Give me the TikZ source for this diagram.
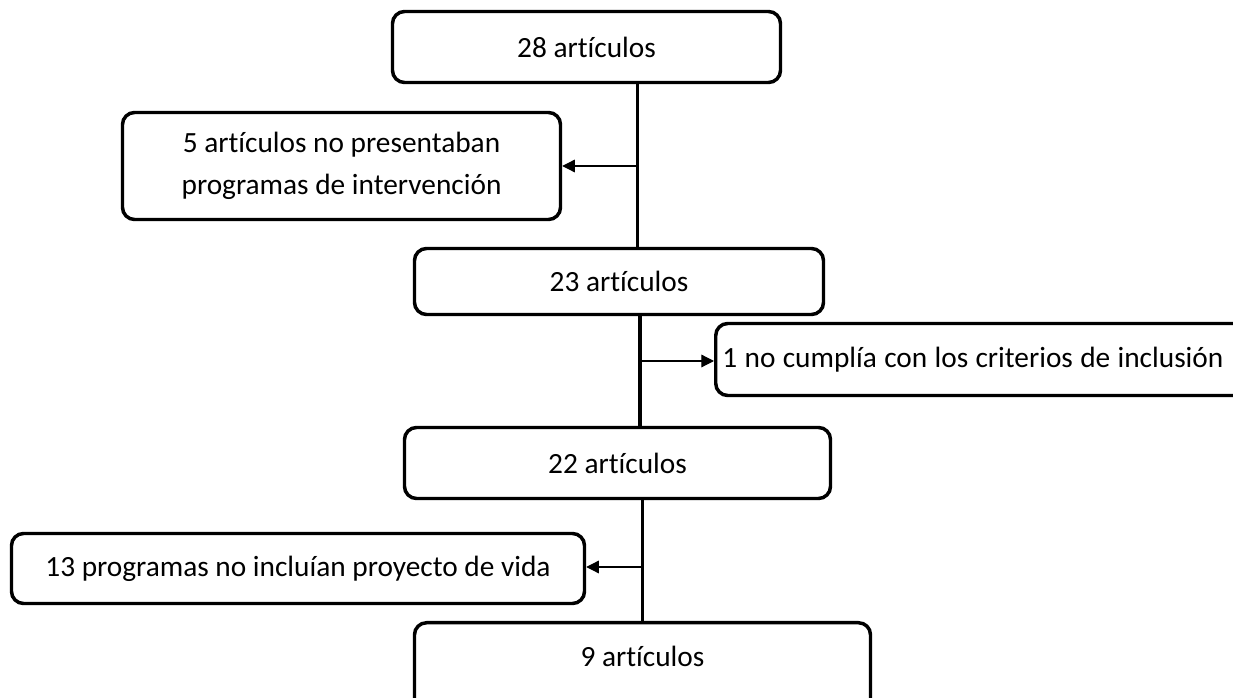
\documentclass[tikz,border=0pt]{standalone}
\usepackage{fontspec}
\setmainfont{Carlito}[Ligatures={NoCommon}]
\usetikzlibrary{arrows.meta}

\begin{document}
\begin{tikzpicture}[x=0.75pt,y=-0.75pt,%
% common options for the boxes:
box/.style = {draw, line width=2.6pt, rounded corners=9pt, align=center,
            inner sep=0, font=\fontsize{22}{31}\selectfont},
% trunk line and side arrows:
trunk/.style = {line width=2.4pt},
side/.style = {line width=0.9pt, -{Triangle[length=9.5pt,width=9.5pt]}}]
\useasboundingbox (0,0) rectangle (1233,698);
\node[box,minimum width=291pt,minimum height=53.25pt] (A) at (586.5,47) {28 artículos};
\node[box,minimum width=328.5pt,minimum height=80.25pt] (B) at (341.5,166) {5 artículos no presentaban\\programas de intervención};
\node[box,minimum width=306.75pt,minimum height=49.5pt] (C) at (619,281.5) {23 artículos};
\node[box,minimum width=397.5pt,minimum height=54pt,anchor=west,
      text width=392pt,inner xsep=5pt,align=left] (D) at (714,359.5) {\spaceskip=0.25em\relax 1 no cumplía con los criterios de inclusión};
\node[box,minimum width=319.5pt,minimum height=53.25pt] (E) at (617.5,463) {22 artículos};
\node[box,minimum width=429.75pt,minimum height=52.5pt] (F) at (298,568.5) {13 programas no incluían proyecto de vida};
\node[box,minimum width=342pt,minimum height=75pt,anchor=north] (G) at (642.5,621) {\raisebox{24pt}{9 artículos}};
\coordinate (j1) at (637.5,166);
\coordinate (j2) at (640,361);
\coordinate (j3) at (642.5,567);
\draw[trunk] (A.south -| j1) to (C.north -| j1);
\draw[trunk] (C.south -| j2) to (E.north -| j2);
\draw[trunk] (E.south -| j3) to (G.north -| j3);
\draw[side] (j1) to (B.east);
\draw[side] (j2) to (D.west |- j2);
\draw[side] (j3) to (F.east |- j3);
\end{tikzpicture}
\end{document}
